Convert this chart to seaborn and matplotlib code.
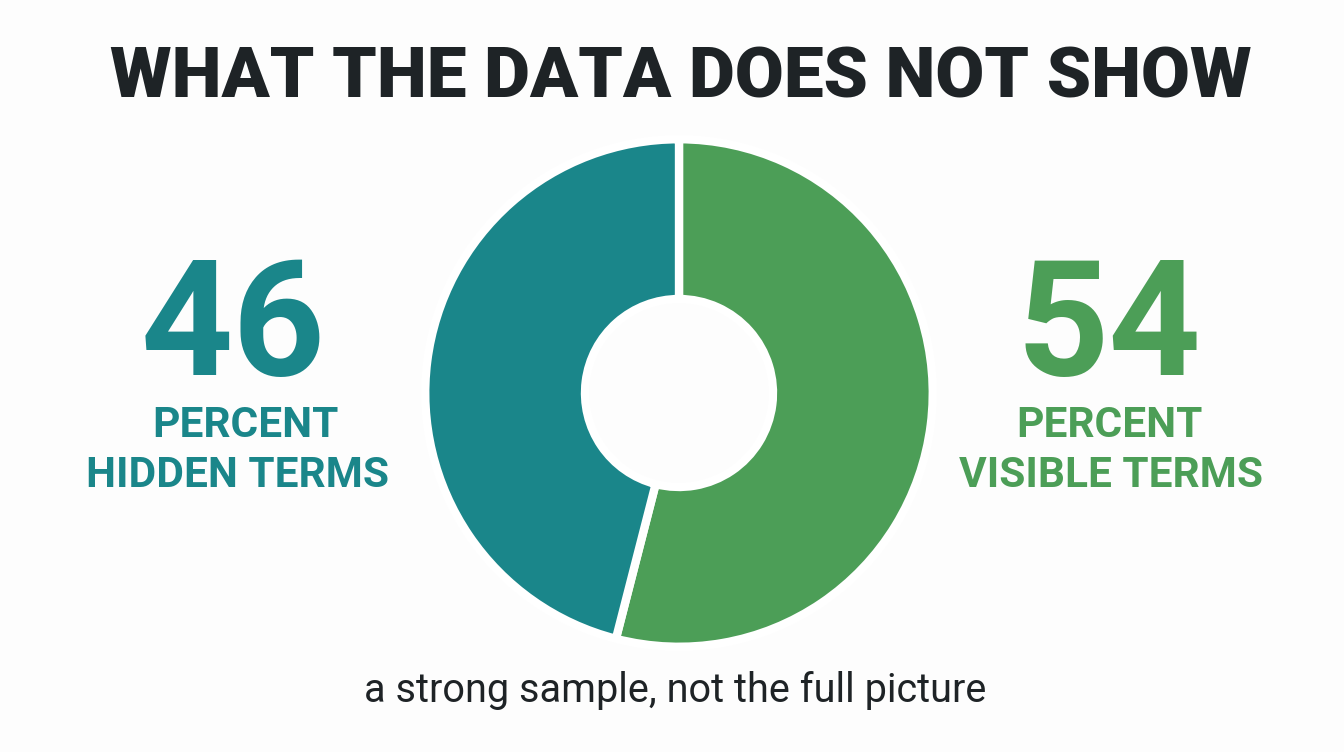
import matplotlib
matplotlib.use("Agg")
import matplotlib.pyplot as plt
import seaborn as sns

categories = ["Visible terms", "Hidden terms"]
values = [54, 46]
colors = ["#4c9e57", "#1a868a"]
title = "WHAT THE DATA DOES NOT SHOW"
subtitle = "a strong sample, not the full picture"

sns.set_theme(style="white")
plt.rcParams['font.family'] = ['Roboto', 'DejaVu Sans']

W, H = 1344, 752
fig = plt.figure(figsize=(W / 100, H / 100), dpi=100)
fig.patch.set_facecolor("#fdfdfd")

cx, cy, R = 679, 393, 250
side = 600
ax = fig.add_axes([(cx - side / 2) / W, (H - cy - side / 2) / H, side / W, side / H])
ax.set_facecolor("none")
ax.pie(values, colors=colors, startangle=90, counterclock=False, radius=1.015,
       wedgeprops=dict(width=1.015 - 94 / 250, edgecolor="white", linewidth=6))
ax.set_xlim(-1.2, 1.2)
ax.set_ylim(-1.2, 1.2)
ax.set_aspect("equal")
ax.axis("off")

def ft(x, y, s, **kw):
    fig.text(x / W, 1 - y / H, s, ha="center", va="baseline", **kw)

ft(681, 98, title, fontsize=51, fontweight="heavy", color="#1e2326")

ft(233, 375, f"{values[1]}", fontsize=116, fontweight="bold", color=colors[1])
ft(245, 437, "PERCENT", fontsize=30.5, fontweight="bold", color=colors[1])
ft(237, 487, "HIDDEN TERMS", fontsize=30.5, fontweight="bold", color=colors[1])

ft(1109, 375, f"{values[0]}", fontsize=116, fontweight="bold", color=colors[0])
ft(1109, 437, "PERCENT", fontsize=30.5, fontweight="bold", color=colors[0])
ft(1111, 487, "VISIBLE TERMS", fontsize=30.5, fontweight="bold", color=colors[0])

ft(675, 702, subtitle, fontsize=28.5, color="#1e2326")

fig.savefig("out.png", dpi=100, facecolor=fig.get_facecolor())
